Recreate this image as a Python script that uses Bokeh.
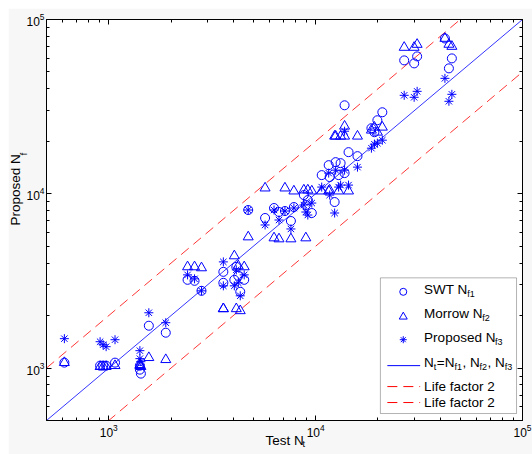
import math
import numpy as np
from bokeh.plotting import figure
from bokeh.models import (FixedTicker, LogAxis, CustomJSTickFormatter, Label,
                          BoxAnnotation, ColumnDataSource)
from bokeh.embed import file_html
from bokeh.resources import INLINE

# ---------------- data ----------------
test_life = [610, 908, 939, 971, 1072, 1414, 1414, 1430, 1562, 1886,
             2404, 2598, 2807, 3580, 3580, 4045, 4135, 4227, 4321, 4516,
             4721, 5697, 6294, 6652, 7106, 7594, 7850, 8770, 8966, 9166,
             9581, 10700, 11565, 11690, 12355, 12493, 12914, 13203, 13800, 13800,
             14423, 15933, 18606, 19233, 19880, 21010, 26800, 29940, 30950, 42170,
             44080, 45560]
swt_life = [1074, 1032, 1032, 1032, 1074, 1032, 979, 929, 1749, 1595,
            3208, 3166, 2774, 3564, 3083, 3208, 3806, 3381, 2738, 3208,
            8069, 7261, 8283, 7857, 7962, 6979, 8392, 9831, 8617, 9204,
            7755, 12795, 14597, 12465, 8966, 15186, 12795, 14988, 13139, 32190,
            17330, 16440, 23772, 22550, 26420, 29360, 58260, 56000, 61410, 77860,
            52430, 59810]
morrow_life = [1074, 1019, 1019, 1019, 1032, 1046, 1032, 1019, 1147, 1117,
               3806, 3806, 3756, 2188, 2188, 4400, 2188, 3857, 2131, 3806,
               5651, 10782, 5578, 5505, 10782, 5505, 10363, 10500, 5578, 10500,
               10363, 10363, 10363, 10500, 21395, 21395, 10363, 21395, 24411, 21395,
               10363, 21395, 23160, 24090, 22550, 24090, 69150, 69150, 71930, 77860,
               72000, 70060]
proposed_life = [1474, 1416, 1361, 1326, 1454, 1258, 1132, 1088, 2076, 1820,
                 3425, 3250, 2774, 4066, 2963, 2963, 3659, 3083, 2597, 3425,
                 8069, 6621, 8069, 7071, 7962, 6281, 8283, 8617, 7857, 7552,
                 8846, 10925, 13139, 9831, 7755, 13667, 10925, 11216, 22856, 13667,
                 11216, 14219, 18270, 19255, 19513, 20300, 36730, 35780, 38710, 45950,
                 33940, 37210]

axis_limits = [500, 100000]
life_factor = 2
major_ticks = [1000, 10000, 100000]
minor_ticks = [600, 700, 800, 900,
               2000, 3000, 4000, 5000, 6000, 7000, 8000, 9000,
               20000, 30000, 40000, 50000, 60000, 70000, 80000, 90000]

# ---------------- layout helpers (frame pixels -> data position) ----------------
FRAME_W, FRAME_H = 479, 402
LOG0 = math.log10(axis_limits[0])
SPAN = math.log10(axis_limits[1]) - LOG0


def fx(px):
    return 10 ** (LOG0 + px / FRAME_W * SPAN)


def fy(py):
    return 10 ** (LOG0 + py / FRAME_H * SPAN)


FONT = "Liberation Sans"
BLUE = "#0000ff"
RED = "#ff0000"
FS = 13.5

p = figure(width=524, height=446, x_axis_type="log", y_axis_type="log",
           x_range=(axis_limits[0], axis_limits[1]),
           y_range=(axis_limits[0], axis_limits[1]),
           output_backend="svg", toolbar_location=None,
           min_border_left=35, min_border_right=10, min_border_top=11,
           min_border_bottom=33,
           background_fill_color="white", border_fill_color="#f7f7f7",
           outline_line_color="black", outline_line_width=1)
p.margin = (8, 0, 0, 8)
p.xgrid.visible = False
p.ygrid.visible = False

ticker = FixedTicker(ticks=major_ticks, minor_ticks=minor_ticks)
for ax in (p.xaxis[0], p.yaxis[0]):
    ax.ticker = ticker
    ax.major_tick_in = 5
    ax.major_tick_out = 0
    ax.minor_tick_in = 3
    ax.minor_tick_out = 0
    ax.axis_line_color = "black"
    ax.major_tick_line_color = "black"
    ax.minor_tick_line_color = "black"
    ax.major_label_text_font = FONT
    ax.major_label_text_font_size = "12px"
    ax.major_label_text_color = "black"
p.xaxis.major_label_standoff = 3
p.yaxis.major_label_standoff = 2

for side in ("above", "right"):
    ax = LogAxis(ticker=ticker, formatter=CustomJSTickFormatter(code="return ''"),
                 major_tick_in=5, major_tick_out=0, minor_tick_in=3, minor_tick_out=0,
                 major_label_text_font_size="0px", major_label_standoff=0,
                 axis_line_color="black")
    p.add_layout(ax, side)

# ---------------- reference lines ----------------
lx = np.array(axis_limits, dtype=float)
p.line(lx, lx, line_color=BLUE, line_width=0.8)
p.line(lx, lx * life_factor, line_color=RED, line_width=0.8, line_dash="10 6")
p.line(lx, lx / life_factor, line_color=RED, line_width=0.8, line_dash="10 6")

# ---------------- data ----------------
src = ColumnDataSource(dict(t=test_life, swt=swt_life, mor=morrow_life, pro=proposed_life))
p.scatter("t", "swt", source=src, marker="circle", size=9, fill_color=None,
          line_color=BLUE, line_width=1)
p.scatter("t", "mor", source=src, marker="triangle", size=10, fill_color=None,
          line_color=BLUE, line_width=1)
p.scatter("t", "pro", source=src, marker="asterisk", size=9,
          line_color=BLUE, line_width=1)

# ---------------- legend ----------------
box = BoxAnnotation(left=fx(336), right=fx(473), bottom=fy(7), top=fy(143),
                    fill_color="white", fill_alpha=1, line_color="black",
                    line_width=1, level="underlay")
p.add_layout(box)

p.scatter([fx(359)], [fy(129)], marker="circle", size=7, fill_color=None,
          line_color=BLUE, line_width=1)
p.scatter([fx(359)], [fy(104)], marker="triangle", size=8, fill_color=None,
          line_color=BLUE, line_width=1)
p.scatter([fx(359)], [fy(81)], marker="asterisk", size=7,
          line_color=BLUE, line_width=1)
p.line([fx(343), fx(376)], [fy(55), fy(55)], line_color=BLUE, line_width=1)
p.line([fx(343), fx(376)], [fy(34), fy(34)], line_color=RED, line_width=1, line_dash="10 6")
p.line([fx(343), fx(376)], [fy(18), fy(18)], line_color=RED, line_width=1, line_dash="10 6")


def txt(x, y, s, size=FS, angle=0.0):
    p.add_layout(Label(x=fx(x), y=fy(y), text=s, text_font=FONT,
                       text_font_size=f"{size}px", text_color="black",
                       text_baseline="middle", text_align="left", angle=angle))


X0 = 380
SUB = 9
txt(X0, 131, "SWT N")
txt(X0 + 43.5, 127, "f1", SUB)
txt(X0, 107, "Morrow N")
txt(X0 + 58.5, 103, "f2", SUB)
txt(X0, 83, "Proposed N")
txt(X0 + 71.3, 79, "f3", SUB)
txt(X0, 58, "N")
txt(X0 + 9.8, 54, "t", SUB)
txt(X0 + 12.8, 58, "=N")
txt(X0 + 30.5, 54, "f1", SUB)
txt(X0 + 38.5, 58, ", N")
txt(X0 + 55.8, 54, "f2", SUB)
txt(X0 + 63.8, 58, ", N")
txt(X0 + 81.1, 54, "f3", SUB)
txt(X0, 34, "Life factor 2")
txt(X0, 18, "Life factor 2")


# axis titles: placed in side panels (not clipped to the frame)
def side_txt(side, x, y, s, size=FS, angle=0.0):
    p.add_layout(Label(x=x, y=y, x_units="screen", y_units="screen", text=s,
                       text_font=FONT, text_font_size=f"{size}px",
                       text_color="black", text_baseline="middle",
                       text_align="left", angle=angle), side)


side_txt("below", 219, 14, "Test N")
side_txt("right", -220, -23, "t", SUB)
side_txt("left", 7, 195, "Proposed N", angle=math.pi / 2)
side_txt("above", -23, -135.7, "f", SUB, angle=math.pi / 2)

open("out.html", "w").write(file_html(p, INLINE))
